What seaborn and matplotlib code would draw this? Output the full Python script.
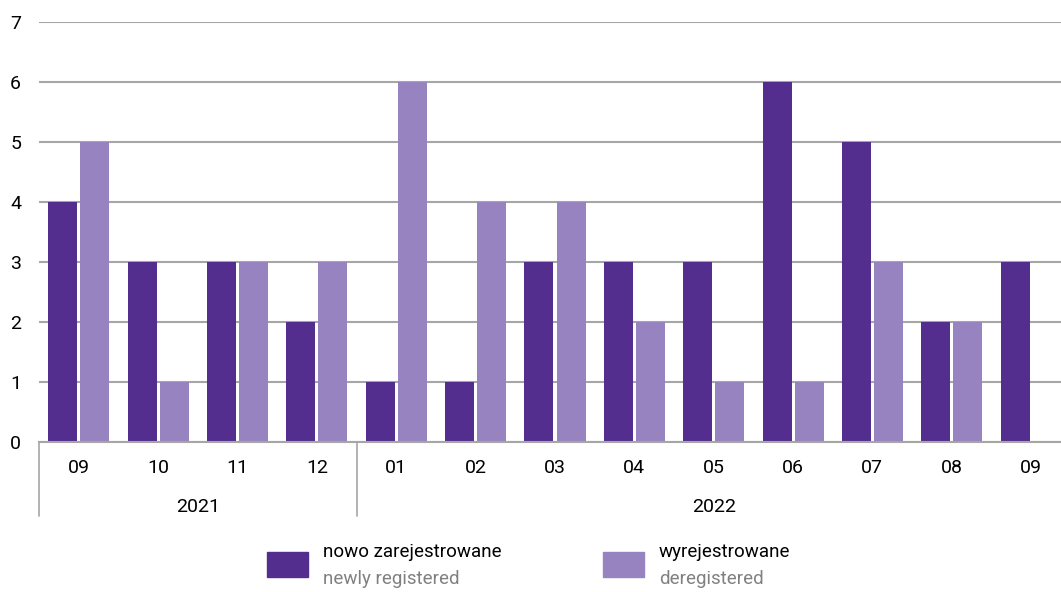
import pandas as pd
import seaborn as sns
import matplotlib.pyplot as plt
from matplotlib.patches import Rectangle
from matplotlib.transforms import blended_transform_factory

# Data
months = ["09", "10", "11", "12", "01", "02", "03", "04", "05", "06", "07", "08", "09"]
years = ["2021", "2021", "2021", "2021", "2022", "2022", "2022", "2022", "2022", "2022", "2022", "2022", "2022"]
newly_registered = [4, 3, 3, 2, 1, 1, 3, 3, 3, 6, 5, 2, 3]
deregistered = [5, 1, 3, 3, 6, 4, 4, 2, 1, 1, 3, 2, 0]

series_pl = ["nowo zarejestrowane", "wyrejestrowane"]
series_en = ["newly registered", "deregistered"]
colors = ["#532E8E", "#9683BF"]

sns.set_theme(style="white")
plt.rcParams['font.family'] = ['Roboto', 'DejaVu Sans']

# long form table
keys = [f"{y}-{m}" for y, m in zip(years, months)]
df = pd.DataFrame({
    "period": keys * 2,
    "value": newly_registered + deregistered,
    "series": [series_pl[0]] * len(keys) + [series_pl[1]] * len(keys),
})

fig = plt.figure(figsize=(10.61, 5.92), dpi=100)
ax = fig.add_axes([39.3 / 1061, 150 / 592, 1031.4 / 1061, 420 / 592])

sns.barplot(data=df, x="period", y="value", hue="series", order=keys,
            hue_order=series_pl, palette=colors, width=0.807, gap=0.094,
            saturation=1, legend=False, linewidth=0, ax=ax)

ax.set_ylim(0, 7)
ax.set_xlim(-0.5, len(keys) - 0.5)
ax.set_yticks(range(8))
ax.yaxis.grid(True, color="#A6A6A6", linewidth=1.5)
ax.set_axisbelow(True)
for s in ["top", "right", "left"]:
    ax.spines[s].set_visible(False)
ax.spines["bottom"].set_color("#A6A6A6")
ax.spines["bottom"].set_linewidth(1.5)
ax.set_xlabel("")
ax.set_ylabel("")
ax.set_xticks(range(len(keys)))
ax.set_xticklabels(months)
ax.tick_params(axis="x", length=0, pad=12, labelsize=14, colors="#000000")
ax.tick_params(axis="y", length=0, pad=13, labelsize=14, colors="#000000")

# year groups below the month labels
trans = blended_transform_factory(ax.transData, ax.transAxes)
year_names = ["2021", "2022"]
for yr in year_names:
    idx = [i for i, y in enumerate(years) if y == yr]
    ax.text((idx[0] + idx[-1]) / 2, -0.155, yr, transform=trans, ha="center",
            va="center", fontsize=14, color="#000000")
bounds = [-0.5] + [i + 0.5 for i in range(len(years) - 1) if years[i] != years[i + 1]]
for b in bounds:
    ax.plot([b, b], [0, -0.175], transform=trans, color="#A6A6A6",
            linewidth=1.2, clip_on=False)

# legend with two-line labels (Polish black, English grey)
leg_x = [267 / 1061, 603 / 1061]
for i in range(2):
    fig.patches.append(Rectangle((leg_x[i], (592 - 577) / 592), 41 / 1061, 25 / 592,
                                 transform=fig.transFigure, color=colors[i]))
    fig.text(leg_x[i] + 56 / 1061, (592 - 552) / 592, series_pl[i], fontsize=13.5,
             color="#000000", va="center", ha="left")
    fig.text(leg_x[i] + 56 / 1061, (592 - 579) / 592, series_en[i], fontsize=13.5,
             color="#808080", va="center", ha="left")

fig.savefig("out.png", dpi=100)
